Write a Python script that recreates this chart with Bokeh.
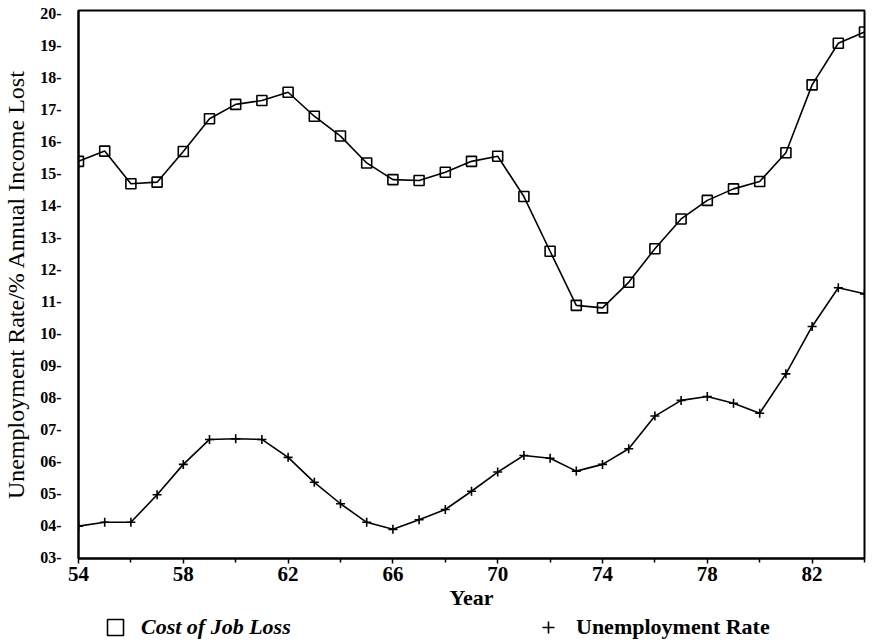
from bokeh.plotting import figure
from bokeh.layouts import column
from bokeh.models import Range1d, FixedTicker, Legend, LegendItem
from bokeh.embed import file_html
from bokeh.resources import INLINE

# ---- data ----
years = list(range(54, 85))
cost_of_job_loss = [15.38, 15.70, 14.68, 14.73, 15.69, 16.71, 17.16, 17.28, 17.54, 16.79,
                    16.17, 15.33, 14.81, 14.78, 15.04, 15.38, 15.54, 14.28, 12.57, 10.88,
                    10.80, 11.60, 12.65, 13.58, 14.16, 14.52, 14.75, 15.65, 17.77, 19.07, 19.42]
unemployment_rate = [3.98, 4.10, 4.10, 4.96, 5.91, 6.69, 6.71, 6.69, 6.13, 5.35,
                     4.68, 4.10, 3.88, 4.18, 4.50, 5.07, 5.67, 6.19, 6.10, 5.70,
                     5.91, 6.40, 7.42, 7.91, 8.03, 7.82, 7.51, 8.74, 10.22, 11.43, 11.24]

y_tick_values = list(range(3, 21))
y_tick_labels = ["%02d-" % v for v in y_tick_values]
x_tick_values = [54, 58, 62, 66, 70, 74, 78, 82]
x_minor_values = [56, 60, 64, 68, 72, 76, 80, 84]
x_tick_labels = [str(v) for v in x_tick_values]

FONT = "Liberation Serif"

p = figure(width=873, height=614, output_backend="svg", toolbar_location=None,
           x_range=Range1d(54, 84), y_range=Range1d(2.969, 20.094),
           min_border_left=77, min_border_right=9, min_border_top=10, min_border_bottom=56,
           background_fill_color="white", border_fill_color="white")

p.grid.visible = False
p.outline_line_color = "black"
p.outline_line_width = 2

# x axis
xa = p.xaxis[0]
xa.ticker = FixedTicker(ticks=x_tick_values, minor_ticks=x_minor_values)
xa.major_label_overrides = {v: s for v, s in zip(x_tick_values, x_tick_labels)}
xa.axis_label = "Year"
xa.axis_label_text_font = FONT
xa.axis_label_text_font_style = "bold"
xa.axis_label_text_font_size = "22px"
xa.axis_label_text_color = "black"
xa.axis_label_standoff = 1
xa.major_label_text_font = FONT
xa.major_label_text_font_style = "bold"
xa.major_label_text_font_size = "21px"
xa.major_label_text_color = "black"
xa.major_label_standoff = 3
xa.axis_line_width = 2
xa.axis_line_color = "black"
xa.major_tick_in = 0
xa.major_tick_out = 5
xa.minor_tick_in = 0
xa.minor_tick_out = 4
xa.major_tick_line_width = 1.5
xa.minor_tick_line_width = 1.5
xa.major_tick_line_color = "black"
xa.minor_tick_line_color = "black"

# y axis
ya = p.yaxis[0]
ya.ticker = FixedTicker(ticks=y_tick_values, minor_ticks=[])
ya.major_label_overrides = {v: s for v, s in zip(y_tick_values, y_tick_labels)}
ya.axis_label = "Unemployment Rate/% Annual Income Lost"
ya.axis_label_text_font = FONT
ya.axis_label_text_font_style = "normal"
ya.axis_label_text_font_size = "24px"
ya.axis_label_text_color = "black"
ya.axis_label_standoff = 8
ya.major_label_text_font = FONT
ya.major_label_text_font_style = "bold"
ya.major_label_text_font_size = "16px"
ya.major_label_text_color = "black"
ya.major_label_standoff = 17
ya.axis_line_width = 2
ya.axis_line_color = "black"
ya.major_tick_in = 0
ya.major_tick_out = 0
ya.minor_tick_in = 0
ya.minor_tick_out = 0

# series
p.line(years, cost_of_job_loss, line_color="black", line_width=1.6)
p.scatter(years, cost_of_job_loss, marker="square", size=10,
          line_color="black", fill_color=None, line_width=1.6)
p.line(years, unemployment_rate, line_color="black", line_width=1.6)
p.scatter(years, unemployment_rate, marker="cross", size=9,
          line_color="black", line_width=1.6)

# legend strip below the chart (its frame is aligned with the chart frame;
# the key renderers carry the series but lie outside this strip's view)
lg = figure(width=873, height=26, output_backend="svg", toolbar_location=None,
            x_range=p.x_range, y_range=Range1d(100, 101),
            x_axis_type=None, y_axis_type=None, min_border=0,
            background_fill_color="white", border_fill_color="white")
lg.grid.visible = False
lg.outline_line_color = None
key_cost = lg.scatter(years, cost_of_job_loss, marker="square", line_color="black",
                      fill_color=None, line_width=1.6)
key_unemp = lg.scatter(years, unemployment_rate, marker="cross", line_color="black",
                       line_width=1.6)

leg1 = Legend(items=[LegendItem(label="Cost of Job Loss", renderers=[key_cost])],
              location=(17, -7), glyph_width=40, glyph_height=40, label_standoff=6,
              padding=0, margin=0, border_line_color=None, background_fill_alpha=0,
              label_text_font=FONT, label_text_font_style="bold italic",
              label_text_font_size="22px", label_text_color="black")
leg2 = Legend(items=[LegendItem(label="Unemployment Rate", renderers=[key_unemp])],
              location=(455, -2), glyph_width=30, glyph_height=30, label_standoff=13,
              padding=0, margin=0, border_line_color=None, background_fill_alpha=0,
              label_text_font=FONT, label_text_font_style="bold",
              label_text_font_size="22px", label_text_color="black")
lg.add_layout(leg1)
lg.add_layout(leg2)

page = column(p, lg, spacing=0)
open("out.html", "w").write(file_html(page, INLINE))
